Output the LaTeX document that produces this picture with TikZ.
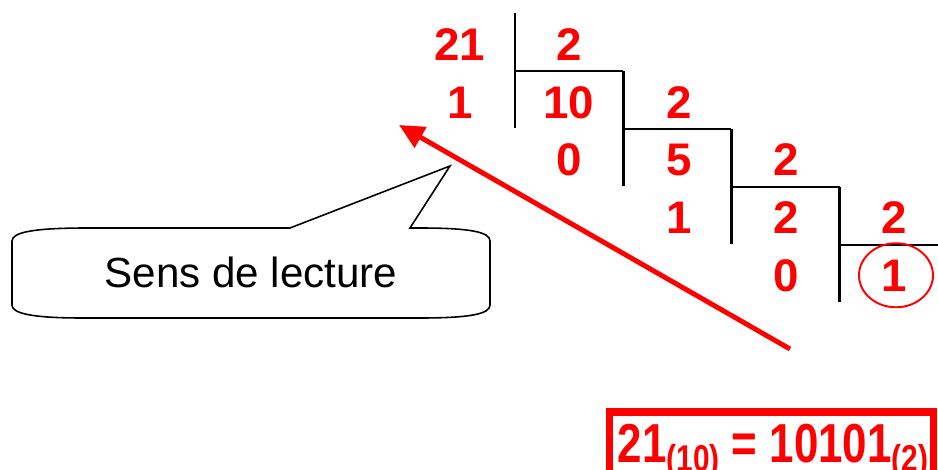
\documentclass[tikz,border=0pt]{standalone}
\usepackage{fontspec}
\setmainfont{Liberation Sans}
\usepackage{xcolor}
\usetikzlibrary{arrows.meta, shapes.geometric}

\begin{document}
\begin{tikzpicture}[
        x=0.02cm, y=-0.02cm, % one unit = one pixel of the sketch
        % --- Customize Your Sizing Globally Right Here ---
        digit/.style={
            anchor=base,
            inner sep=0pt,
            text=red,
            font=\fontsize{26}{30}\selectfont\bfseries
        },
        ring/.style={ellipse, draw=red, line width=1.1pt,
            minimum width=1.48cm, minimum height=1.28cm},
        bracket/.style={draw, line width=1.7pt},
        readarrow/.style={red, line width=2.8pt,
            -{Triangle[length=0.5cm, width=0.46cm]}},
        bubble/.style={draw, line width=0.9pt, fill=white},
        resultbox/.style={draw=red, line width=4pt}
    ]
    \clip (0,0) rectangle (938,470);

    % ==================== 1. DIVISION BRACKETS ====================
    \foreach \i in {0,...,3} {
        \draw[bracket] ({515+108.3*\i}, {13+58*\i}) -- ({515+108.3*\i}, {128+58*\i});
        \draw[bracket] ({515+108.3*\i}, {71+58*\i}) -- ({623+108.3*\i}, {71+58*\i});
    }

    % ==================== 2. NUMBERS ====================
    % Row 0
    \node[digit] (d21) at (460, 60)  {21};
    \node[digit] (q1)  at (569, 60)  {2};
    % Row 1
    \node[digit] (r1)  at (460, 118) {1};
    \node[digit] (d10) at (569, 118) {10};
    \node[digit] (q2)  at (679, 118) {2};
    % Row 2
    \node[digit] (r2)  at (569, 175) {0};
    \node[digit] (d5)  at (679, 175) {5};
    \node[digit] (q3)  at (786, 175) {2};
    % Row 3
    \node[digit] (r3)  at (679, 233) {1};
    \node[digit] (d2)  at (786, 233) {2};
    \node[digit] (q4)  at (894, 233) {2};
    % Row 4
    \node[digit] (r4)  at (786, 291) {0};
    \node[digit] (d1)  at (894, 291) {1};
    \node[ring]  (last) at ([xshift=0.04cm]d1.center) {};

    % ==================== 3. READING DIRECTION ====================
    \coordinate (arrowtail) at (790, 349);
    \coordinate (arrowtip)  at (399, 125);
    \draw[readarrow] (arrowtail) -- (arrowtip);

    % Callout
    \draw[bubble] (87,228) -- (290,228) -- (450,166) -- (410,228) -- (420,228)
        .. controls (470,228) and (490,232) .. (490,241) -- (490,305)
        .. controls (490,314) and (470,318) .. (420,318) -- (82,318)
        .. controls (30,318) and (12,313) .. (12,305) -- (12,241)
        .. controls (12,232) and (35,228) .. (87,228) -- cycle;
    \node[anchor=base, inner sep=0pt, font=\fontsize{24}{28}\selectfont]
        (sens) at (251, 287) {Sens de lecture};

    % ==================== 4. RESULT ====================
    \draw[resultbox] (609.5, 412) rectangle (933.5, 520);
    \node[anchor=base, inner sep=0pt, text=red, font=\fontsize{25}{30}\selectfont\bfseries]
        (result) at (773, 462)
        {\scalebox{1}[1.25]{21\raisebox{-4.5pt}{\fontsize{17}{20}\selectfont(10)} = 10101\raisebox{-4.5pt}{\fontsize{17}{20}\selectfont(2)}}};

\end{tikzpicture}
\end{document}
